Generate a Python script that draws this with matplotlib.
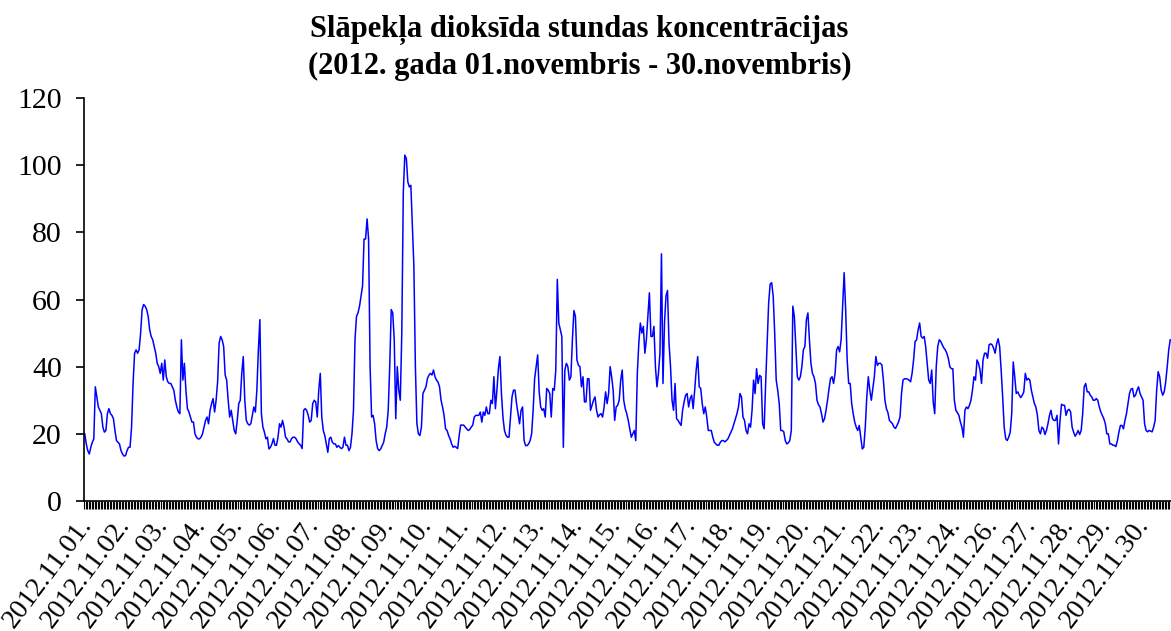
import matplotlib
matplotlib.use("Agg")
import matplotlib.pyplot as plt
import matplotlib.transforms as mtransforms
import numpy as np

# hourly NO2 concentrations, one list per day (hours 0..23)
day01 = [20, 17, 15, 14, 16, 17.5, 18.5, 34, 31, 28, 27, 26, 22, 20.5, 21, 26, 27.5, 26, 25.5, 24.5, 21, 18, 17.5, 17]
day02 = [15, 14, 13.4, 13.5, 15, 16, 16, 22, 35, 44, 45, 44, 45, 50, 57, 58.5, 58, 57, 55, 51, 49, 48, 46, 44]
day03 = [41, 40, 38, 41, 36, 42, 37, 35.5, 35, 35, 34, 33, 30, 28, 26.5, 26, 48, 36, 41, 33, 27.5, 26.5, 25, 23.5]
day04 = [23.5, 20, 19, 18.5, 18.5, 19, 20, 22, 24, 25, 23, 27, 29, 30.5, 26.5, 30, 35.5, 47, 49, 48, 46, 37.5, 36, 30]
day05 = [25, 27, 24, 21, 20, 24, 29, 30, 38, 43, 30, 24, 23, 22.6, 23, 25.5, 28, 26.5, 33, 45, 54, 26, 22, 20.5]
day06 = [18.5, 19, 15.5, 16, 17, 18.6, 16.6, 16.6, 19, 23, 22, 24, 22, 19, 18.5, 17.6, 17.6, 18.6, 19, 19, 18.5, 17.6, 17, 16.6]
day07 = [15.6, 27, 27.5, 27, 25.5, 23.5, 24, 29, 30, 29.5, 25, 33, 38, 25, 21, 19.5, 17, 14.5, 18.6, 19, 17.5, 17, 17, 16]
day08 = [16.5, 16, 15.6, 16, 19, 16.6, 16.6, 15, 16, 20, 27, 48, 55, 56, 58, 61, 64, 78, 78, 84, 78, 40, 25, 25.5]
day09 = [23, 18, 15.6, 15, 15.5, 16.5, 17.5, 20, 22, 27, 40, 57, 56, 48, 24.5, 40, 33, 30, 50, 92, 103, 102, 95, 93.5]
day10 = [94, 82, 70, 40, 23, 20, 19.5, 22, 32, 33, 34, 36.5, 37.5, 38, 37.5, 39, 37, 36, 35.4, 34, 30, 28, 25.5, 21.5]
day11 = [21, 19.5, 18.5, 17, 16, 16.3, 16, 15.6, 19.5, 22.6, 22.6, 22.6, 22, 21.5, 21, 21.3, 22, 22.6, 25, 25.5, 25.5, 25.5, 26.5, 23.5]
day12 = [26.5, 25.5, 28, 26, 26, 30, 29, 37, 27.5, 33, 39.5, 43, 32, 25, 21, 19.6, 19, 19, 25, 31, 33, 33, 29, 26]
day13 = [23, 27, 28, 18, 16.5, 16.5, 17, 18, 20, 27, 36.5, 40, 43.5, 32.5, 28, 27, 27.5, 25, 33.5, 33, 32, 25, 33.5, 33]
day14 = [39, 66, 53, 51, 49, 16, 39, 41, 40, 36, 37, 48, 56.7, 55, 42, 40.4, 40, 34, 37, 29.5, 29.5, 36.4, 36.4, 27]
day15 = [28.5, 30, 31, 27, 25, 25.7, 26, 25, 28, 32.5, 29, 32, 40, 37, 33, 24, 28, 28.5, 30, 36, 39, 30, 27.5, 26]
day16 = [24, 21.5, 19, 20, 21, 18, 38, 47, 53, 50, 52, 44, 48, 55, 62, 49, 49, 52, 40, 34, 38, 44, 73.6, 35]
day17 = [53, 61, 62.7, 47, 40, 30, 27, 35, 24.5, 24, 23.2, 22.5, 27, 29.5, 31.5, 32, 28, 30.5, 31.5, 27.5, 33, 39, 43, 34]
day18 = [33.5, 29, 26, 28, 25, 21, 21, 21, 19, 17.5, 17, 16.6, 16.6, 17.5, 18, 18, 17.6, 18, 18.5, 19.5, 20.5, 21.5, 23, 24.5]
day19 = [26, 28, 32, 31, 25, 24, 21, 20, 23, 22, 27, 36, 32, 39.4, 35, 37.4, 37, 23, 21.5, 35, 47, 59, 64.6, 65]
day20 = [61, 50, 36, 33, 29, 21, 21, 20.6, 18, 17, 17.3, 18, 21, 58, 55, 46, 37, 36, 37, 40, 45, 46, 54, 56]
day21 = [48, 41, 38, 37, 35, 30, 28.7, 28, 26, 23.5, 24.5, 27, 30, 33.5, 36.5, 37, 35, 38, 45, 46, 44.4, 48, 58, 68]
day22 = [57, 42, 35, 35, 29, 26, 23.5, 22, 21, 22.5, 19, 15.5, 16, 22, 31, 37, 33, 30, 33.5, 37, 43, 40.4, 41, 41]
day23 = [40.5, 36, 30, 27.5, 26.3, 24, 23.5, 23, 22, 21.6, 22.5, 23.5, 25, 32, 36, 36.4, 36.4, 36.3, 36, 35.5, 38, 42, 47.5, 48]
day24 = [51, 53, 49, 48.5, 49, 46, 41, 36, 35, 39, 29.5, 26, 40, 46, 48, 47.5, 46.5, 45.6, 45, 44, 42.5, 40, 39.4, 39.4]
day25 = [30, 27, 26.3, 25.5, 23.5, 22, 19, 27, 28, 27.5, 28.5, 30, 33, 37, 36, 42, 41, 39, 35, 42, 44, 44, 42.5, 46.5]
day26 = [46.8, 46.5, 45.5, 44, 46.8, 48.3, 46, 39, 31, 22, 18.6, 18, 19, 20.5, 26, 41.4, 37, 32, 32.5, 31.5, 30.8, 31.5, 32.5, 38]
day27 = [36, 36.5, 36, 33, 31, 29, 28, 25.5, 21, 20, 22, 21.5, 19.8, 21, 23, 25.5, 27, 24.5, 24, 24, 25.5, 17, 24, 28.8]
day28 = [28.5, 28.5, 25.5, 27, 27.3, 26.5, 22, 20.5, 19.3, 20, 21, 19.8, 21, 26, 34, 35, 32.5, 32.5, 31.5, 31, 30, 30, 30.5, 30]
day29 = [28, 26.5, 25.5, 24.5, 23, 20, 20, 17, 17, 16.6, 16.6, 16.2, 18, 20.5, 22.5, 22.5, 21.5, 24, 26, 29, 32, 33.3, 33.5, 31]
day30 = [31.5, 33, 34, 32, 31, 30, 23, 21, 20.6, 21, 20.8, 20.6, 22, 24, 33, 38.5, 37, 33, 31.5, 32.5, 35.5, 40, 45, 48]

days = [day01, day02, day03, day04, day05, day06, day07, day08, day09, day10,
        day11, day12, day13, day14, day15, day16, day17, day18, day19, day20,
        day21, day22, day23, day24, day25, day26, day27, day28, day29, day30]
for i, d in enumerate(days):
    assert len(d) == 24, (i + 1, len(d))

no2 = np.concatenate(days)
hours = np.arange(len(no2))
# category label for every hour, the axis shows every 25th one
hour_dates = ["2012.11.%02d." % (h // 24 + 1) for h in hours]
label_step = 25

plt.rcParams['font.family'] = ['Liberation Serif', 'DejaVu Serif']

fig = plt.figure(figsize=(11.71, 6.31), dpi=100)
ax = fig.add_axes([84 / 1171, 130 / 631, 1 - 84 / 1171, 403 / 631])

ax.plot(hours, no2, color="#0000ff", linewidth=1.1)

ax.set_xlim(-0.5, 719.5)
ax.set_ylim(0, 120)
ax.set_yticks(range(0, 121, 20))
ax.tick_params(axis='y', labelsize=21.5, length=6, width=1.2, direction='out', pad=10)

ax.set_xticks(hours[::label_step])
ax.set_xticklabels(hour_dates[::label_step], rotation=53, ha='right', va='top',
                   rotation_mode='anchor', fontsize=20)
ax.set_xticks(np.arange(-0.5, 720, 1), minor=True)
ax.tick_params(axis='x', which='major', length=0, pad=9)
ax.tick_params(axis='x', which='minor', length=5.5, width=0.8, direction='out')

# nudge the date labels a little to the left, like the original
shift = mtransforms.ScaledTranslation(-7 / 100, 0, fig.dpi_scale_trans)
for lbl in ax.get_xticklabels():
    lbl.set_transform(lbl.get_transform() + shift)

for side in ['top', 'right']:
    ax.spines[side].set_visible(False)
for side in ['left', 'bottom']:
    ax.spines[side].set_linewidth(1.2)

fig.text(0.495, 1 - 30 / 631, "Slāpekļa dioksīda stundas koncentrācijas",
         ha='center', va='center', fontsize=22, fontweight='bold')
fig.text(0.495, 1 - 66 / 631, "(2012. gada 01.novembris - 30.novembris)",
         ha='center', va='center', fontsize=22, fontweight='bold')

fig.savefig("out.png", dpi=100)
